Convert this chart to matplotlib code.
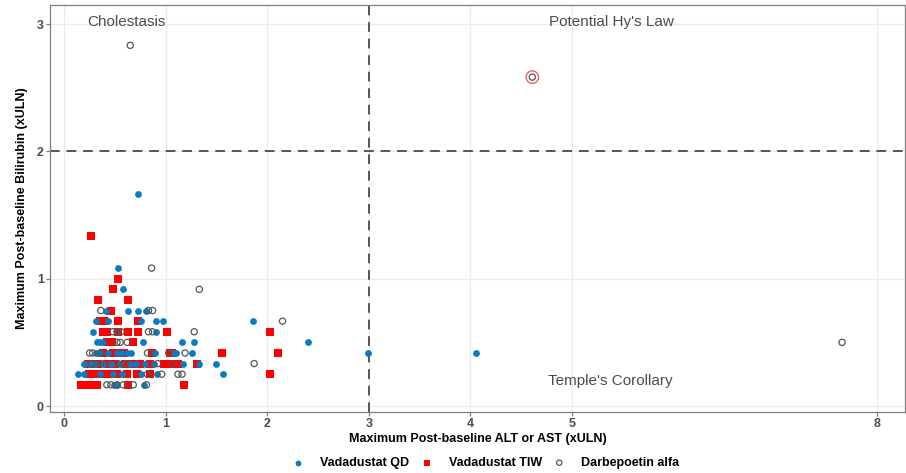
import numpy as np
import matplotlib.pyplot as plt

plt.rcParams['font.family'] = ['Liberation Sans', 'DejaVu Sans']

# ---- data (x = max ALT/AST xULN, y = max bilirubin xULN) ----
qd_x = [0.49, 0.52, 0.79,
        0.14, 0.19, 0.35, 0.48, 0.57, 0.76, 0.91, 1.56,
        0.19, 0.25, 0.30, 0.38, 0.46, 0.55, 0.65, 0.71, 0.80, 0.88, 1.17, 1.33, 1.49,
        0.31, 0.34, 0.43, 0.52, 0.56, 0.62, 0.66, 0.89, 1.08, 1.10, 1.26, 2.99, 4.06,
        0.32, 0.35, 0.38, 0.78, 1.16, 1.28, 2.40,
        0.28, 0.90,
        0.31, 0.43, 0.76, 0.90, 0.97, 1.86,
        0.41, 0.63, 0.73, 0.81,
        0.58, 0.53, 0.73]
qd_y = [1/6] * 3 + [0.25] * 8 + [1/3] * 13 + [5/12] * 13 + [0.5] * 7 + [7/12] * 2 \
    + [2/3] * 6 + [0.75] * 4 + [11/12, 13/12, 5/3]

tiw_x = [0.17, 0.21, 0.25, 0.29, 0.32, 0.63, 1.18,
         0.24, 0.28, 0.32, 0.36, 0.40, 0.44, 0.52, 0.62, 0.72, 0.84, 2.03,
         0.23, 0.27, 0.33, 0.42, 0.50, 0.60, 0.68, 0.75, 0.84, 0.98, 1.04, 1.12, 1.31,
         0.38, 0.48, 0.55, 0.59, 0.86, 1.04, 1.06, 1.55, 2.11,
         0.42, 0.47, 0.68,
         0.38, 0.42, 0.53, 0.63, 0.73, 1.01, 2.03,
         0.35, 0.39, 0.53, 0.73,
         0.46,
         0.33, 0.63,
         0.48, 0.53, 0.26]
tiw_y = [1/6] * 7 + [0.25] * 11 + [1/3] * 13 + [5/12] * 9 + [0.5] * 3 + [7/12] * 7 \
    + [2/3] * 4 + [0.75] + [5/6] * 2 + [11/12, 1.0, 4/3]

darb_x = [0.42, 0.46, 0.52, 0.58, 0.68, 0.81,
          0.82, 0.96, 1.12, 1.16,
          0.27, 0.36, 0.53, 0.60, 0.92, 1.07, 1.87,
          0.25, 0.28, 0.36, 0.82, 1.03, 1.19,
          0.52, 0.55, 0.62, 7.66,
          0.48, 0.52, 0.56, 0.83, 0.87, 1.28,
          2.15,
          0.36, 0.83, 0.87,
          1.33, 0.86, 0.65, 4.61]
darb_y = [1/6] * 6 + [0.25] * 4 + [1/3] * 7 + [5/12] * 6 + [0.5] * 4 + [7/12] * 6 \
    + [2/3] + [0.75] * 3 + [11/12, 13/12, 17/6, 31/12]

hl_x = [4.61]
hl_y = [31/12]

x_ticks = [0, 1, 2, 3, 4, 5, 8]
y_ticks = [0, 1, 2, 3]

blue = '#0A7BC1'
red = '#FF0000'
grey_txt = '#4D4D4D'

fig = plt.figure(figsize=(9.06, 4.73), dpi=100)
ax = fig.add_axes([50/906, 61/473, 855/906, 407/473])

ax.set_xlim(-0.14, 8.28)
ax.set_ylim(-0.047, 3.15)
ax.set_xticks(x_ticks)
ax.set_yticks(y_ticks)
ax.grid(True, color='#EBEBEB', lw=0.9, zorder=0)
ax.set_axisbelow(True)
for s in ax.spines.values():
    s.set_color('#7F7F7F')
    s.set_linewidth(0.9)
ax.tick_params(colors='#7F7F7F', length=3, width=0.9, labelcolor=grey_txt, labelsize=9, pad=1.5)
for lab in ax.get_xticklabels() + ax.get_yticklabels():
    lab.set_fontweight('bold')

ax.axvline(3, color='#555555', ls=(0, (5, 3.5)), lw=1.4, zorder=1)
ax.axhline(2, color='#555555', ls=(0, (5, 3.5)), lw=1.4, zorder=1)

ax.scatter(tiw_x, tiw_y, marker='s', s=26, color=red, lw=0, zorder=2, label='Vadadustat TIW')
ax.scatter(qd_x, qd_y, marker='o', s=24, color=blue, lw=0, zorder=3, label='Vadadustat QD')
ax.scatter(darb_x, darb_y, marker='o', s=20, facecolor='none', edgecolor='#555555', lw=0.9,
           zorder=4, label='Darbepoetin alfa')
ax.scatter(hl_x, hl_y, marker='o', s=80, facecolor='none', edgecolor='#F06060', lw=1.0, zorder=4)

ax.text(0.23, 3.02, 'Cholestasis', fontsize=11, color=grey_txt, va='center')
ax.text(4.77, 3.02, "Potential Hy's Law", fontsize=11, color=grey_txt, va='center')
ax.text(4.76, 0.196, "Temple's Corollary", fontsize=11, color=grey_txt, va='center')

ax.set_xlabel('Maximum Post-baseline ALT or AST (xULN)', fontsize=9, fontweight='bold', labelpad=2)
ax.set_ylabel('Maximum Post-baseline Bilirubin (xULN)', fontsize=9, fontweight='bold', labelpad=6)

h, l = ax.get_legend_handles_labels()
order = [1, 0, 2]
leg = fig.legend([h[i] for i in order], [l[i] for i in order], loc='center', ncol=3,
                 bbox_to_anchor=(0.534, 10/473), frameon=False, markerscale=0.85,
                 prop={'weight': 'bold', 'size': 9}, columnspacing=0.6, handletextpad=0.95,
                 handlelength=1.6)

fig.savefig('out.png', dpi=100)
